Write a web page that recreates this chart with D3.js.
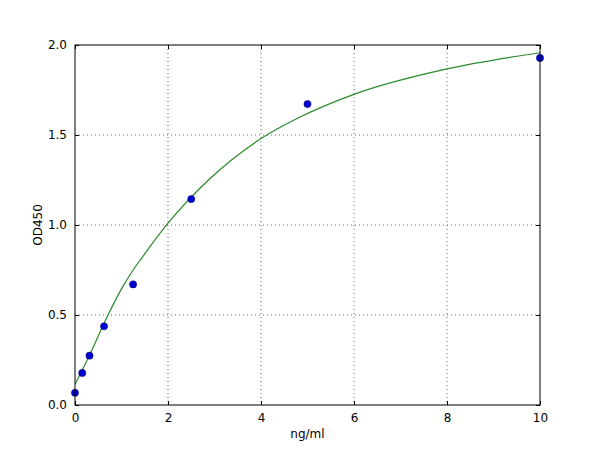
<!DOCTYPE html>
<html>
<head>
<meta charset="utf-8">
<script src="https://cdn.jsdelivr.net/npm/d3@7"></script>
<style>
	body { margin: 0; background: #fff; }
	text { font-family: "DejaVu Sans", sans-serif; }
</style>
</head>
<body>
<div id="chart"></div>
<script>
var xTicks = [0, 2, 4, 6, 8, 10];
var yTicks = [0.0, 0.5, 1.0, 1.5, 2.0];

// measured standards
var concX = [0, 0.156, 0.3125, 0.625, 1.25, 2.5, 5, 10];
var odY = [0.068, 0.178, 0.274, 0.437, 0.67, 1.144, 1.672, 1.928];

// fitted curve
var fitX = [0, 0.3, 0.71, 1, 1.25, 1.43, 2, 2.87, 4, 4.84, 6, 8, 10];
var fitY = [0.115, 0.27, 0.5, 0.645, 0.75, 0.815, 1.01, 1.25, 1.48, 1.6, 1.726, 1.867, 1.957];

var width = 600, height = 450;
var plotL = 75, plotR = 540, plotT = 45, plotB = 405;

var svg = d3.select('#chart').append('svg').attr('width', width).attr('height', height);

var x = d3.scaleLinear().domain([0, 10]).range([plotL, plotR]);
var y = d3.scaleLinear().domain([0, 2]).range([plotB, plotT]);

svg.append('clipPath').attr('id', 'plot')
	.append('rect').attr('x', plotL).attr('y', plotT).attr('width', plotR - plotL).attr('height', plotB - plotT);

//grid
svg.append('g').selectAll('line').data(xTicks.slice(1, -1)).enter().append('line')
	.attr('x1', function(d) { return x(d); }).attr('x2', function(d) { return x(d); })
	.attr('y1', plotT).attr('y2', plotB)
	.attr('stroke', '#000').attr('stroke-width', 0.6).attr('stroke-dasharray', '1,3');
svg.append('g').selectAll('line').data(yTicks.slice(1, -1)).enter().append('line')
	.attr('y1', function(d) { return y(d); }).attr('y2', function(d) { return y(d); })
	.attr('x1', plotL).attr('x2', plotR)
	.attr('stroke', '#000').attr('stroke-width', 0.6).attr('stroke-dasharray', '1,3');

var fit = fitX.map(function(d, i) { return [d, fitY[i]]; });
svg.append('path').datum(fit)
	.attr('clip-path', 'url(#plot)')
	.attr('fill', 'none').attr('stroke', '#2a8a2a').attr('stroke-width', 1.2)
	.attr('d', d3.line().x(function(d) { return x(d[0]); }).y(function(d) { return y(d[1]); }).curve(d3.curveMonotoneX));

svg.append('g').selectAll('circle').data(concX).enter().append('circle')
	.attr('cx', function(d) { return x(d); })
	.attr('cy', function(d, i) { return y(odY[i]); })
	.attr('r', 3.6).attr('fill', '#0000cc').attr('stroke', '#00007a').attr('stroke-width', 0.5);

//axes with inward ticks
svg.append('g').attr('transform', 'translate(0,' + plotB + ')')
	.call(d3.axisBottom(x).tickValues(xTicks).tickSizeInner(-4).tickSizeOuter(0).tickPadding(8).tickFormat(d3.format('d')));
svg.append('g').attr('transform', 'translate(0,' + plotT + ')')
	.call(d3.axisTop(x).tickValues(xTicks).tickSizeInner(-4).tickSizeOuter(0).tickFormat(''));
svg.append('g').attr('transform', 'translate(' + plotL + ',0)')
	.call(d3.axisLeft(y).tickValues(yTicks).tickSizeInner(-4).tickSizeOuter(0).tickPadding(8).tickFormat(d3.format('.1f')));
svg.append('g').attr('transform', 'translate(' + plotR + ',0)')
	.call(d3.axisRight(y).tickValues(yTicks).tickSizeInner(-4).tickSizeOuter(0).tickFormat(''));

svg.selectAll('.domain').remove();
svg.selectAll('.tick line').attr('stroke', '#000');
svg.selectAll('.tick text').attr('font-size', 12).attr('fill', '#000').attr('font-family', '"DejaVu Sans", sans-serif');

svg.append('rect').attr('x', plotL).attr('y', plotT).attr('width', plotR - plotL).attr('height', plotB - plotT)
	.attr('fill', 'none').attr('stroke', '#000').attr('stroke-width', 1);

svg.append('text').attr('x', (plotL + plotR) / 2).attr('y', 438).attr('text-anchor', 'middle')
	.attr('font-size', 12).text('ng/ml');
svg.append('text').attr('transform', 'translate(42,' + ((plotT + plotB) / 2) + ') rotate(-90)')
	.attr('text-anchor', 'middle').attr('font-size', 12).text('OD450');
</script>
</body>
</html>
